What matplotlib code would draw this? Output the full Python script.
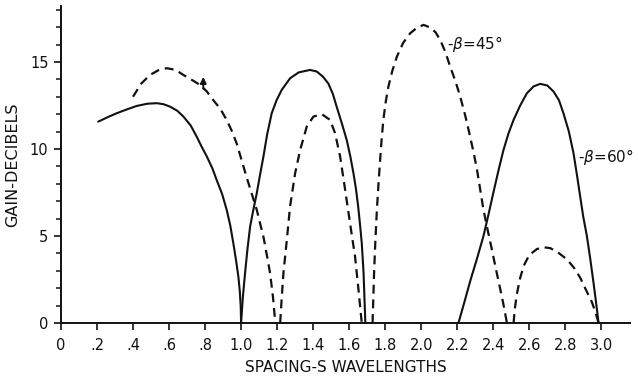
import matplotlib
matplotlib.use("Agg")
import matplotlib.pyplot as plt
from matplotlib.ticker import MultipleLocator

# Gain vs. element spacing, two tilt angles.
# beta = 60 deg (solid) — three lobes
s60_a = [0.207, 0.26, 0.309, 0.36, 0.42, 0.48, 0.532, 0.57, 0.606, 0.645, 0.68, 0.72, 0.754,
         0.78, 0.81, 0.84, 0.865, 0.895, 0.92, 0.94, 0.957, 0.972, 0.985, 0.993, 0.998, 1.0]
g60_a = [11.57, 11.83, 12.05, 12.25, 12.47, 12.6, 12.63, 12.57, 12.43, 12.2, 11.86, 11.35, 10.7,
         10.15, 9.56, 8.9, 8.2, 7.4, 6.5, 5.6, 4.58, 3.6, 2.66, 1.8, 0.94, 0.0]

s60_b = [1.0, 1.01, 1.022, 1.035, 1.05, 1.068, 1.087, 1.105, 1.124, 1.145, 1.17, 1.197, 1.226,
         1.272, 1.32, 1.383, 1.42, 1.455, 1.485, 1.51, 1.53, 1.56, 1.587, 1.607, 1.624,
         1.638, 1.65, 1.66, 1.67, 1.68, 1.69]
g60_b = [0.0, 1.5, 2.86, 4.2, 5.53, 6.5, 7.45, 8.5, 9.56, 10.85, 12.05, 12.8, 13.4,
         14.06, 14.4, 14.54, 14.45, 14.15, 13.75, 13.15, 12.45, 11.45, 10.5, 9.55, 8.6,
         7.7, 6.7, 5.7, 4.6, 2.9, 0.0]

s60_c = [2.207, 2.24, 2.272, 2.31, 2.346, 2.373, 2.40, 2.43, 2.457, 2.485, 2.513, 2.55, 2.587,
         2.625, 2.661, 2.70, 2.735, 2.765, 2.79, 2.82, 2.846, 2.865, 2.883, 2.90, 2.92,
         2.94, 2.957, 2.972, 2.985]
g60_c = [0.0, 1.2, 2.4, 3.7, 5.0, 6.2, 7.45, 8.8, 9.94, 10.9, 11.67, 12.5, 13.2,
         13.6, 13.74, 13.65, 13.3, 12.8, 12.05, 11.0, 9.75, 8.5, 7.26, 6.1, 5.0,
         3.6, 2.3, 1.1, 0.0]

# beta = 45 deg (dashed) — four lobes
s45_a = [0.40, 0.445, 0.494, 0.54, 0.587, 0.635, 0.68, 0.725, 0.772, 0.81, 0.846, 0.885, 0.92,
         0.95, 0.976, 1.003, 1.03, 1.06, 1.087, 1.106, 1.124, 1.143, 1.161, 1.177, 1.19]
g45_a = [13.0, 13.75, 14.25, 14.52, 14.64, 14.55, 14.25, 13.98, 13.68, 13.3, 12.8, 12.3, 11.67,
         11.0, 10.3, 9.35, 8.4, 7.4, 6.5, 5.7, 4.96, 3.9, 2.86, 1.5, 0.0]

s45_b = [1.217, 1.226, 1.235, 1.254, 1.272, 1.30, 1.328, 1.365, 1.402, 1.448, 1.494, 1.522,
         1.55, 1.578, 1.605, 1.633, 1.652, 1.67]
g45_b = [0.0, 1.5, 2.86, 4.77, 6.7, 8.6, 9.94, 11.3, 11.86, 12.0, 11.67, 10.9,
         9.56, 7.64, 5.73, 3.8, 1.9, 0.0]

s45_c = [1.73, 1.739, 1.746, 1.754, 1.763, 1.772, 1.78, 1.79, 1.803, 1.818, 1.84, 1.865,
         1.90, 1.939, 1.975, 2.013, 2.05, 2.08, 2.106, 2.135, 2.161, 2.19, 2.217, 2.245,
         2.272, 2.292, 2.31, 2.328, 2.346, 2.37, 2.393, 2.417, 2.44, 2.46, 2.476]
g45_c = [0.0, 3.05, 4.8, 6.5, 8.0, 9.37, 10.5, 11.67, 12.7, 13.58, 14.5, 15.3,
         16.1, 16.65, 16.95, 17.13, 16.98, 16.7, 16.26, 15.55, 14.73, 13.9, 13.0, 11.9,
         10.7, 9.75, 8.8, 7.65, 6.5, 5.3, 4.2, 3.0, 1.9, 0.9, 0.0]

s45_d = [2.513, 2.52, 2.53, 2.55, 2.57, 2.60, 2.643, 2.68, 2.717, 2.76, 2.81, 2.85, 2.883,
         2.915, 2.948, 2.968, 2.985]
g45_d = [0.0, 0.8, 1.6, 2.6, 3.3, 3.9, 4.25, 4.35, 4.3, 4.05, 3.65, 3.15, 2.6,
         1.9, 1.2, 0.6, 0.0]

x_ticks = [0.0, 0.2, 0.4, 0.6, 0.8, 1.0, 1.2, 1.4, 1.6, 1.8, 2.0, 2.2, 2.4, 2.6, 2.8, 3.0]
x_tick_labels = ["0", ".2", ".4", ".6", ".8", "1.0", "1.2", "1.4", "1.6", "1.8",
                 "2.0", "2.2", "2.4", "2.6", "2.8", "3.0"]
y_ticks = [0, 5, 10, 15]
y_tick_labels = ["0", "5", "10", "15"]

fig = plt.figure(figsize=(6.38, 3.91), dpi=100)
ax = fig.add_axes([0.0956, 0.174, 0.892, 0.810])
ax.set_xlim(0, 3.16)
ax.set_ylim(0, 18.2)

ink = "#111111"
for s, g in [(s60_a, g60_a), (s60_b, g60_b), (s60_c, g60_c)]:
    ax.plot(s, g, color=ink, lw=1.5, solid_capstyle="round", solid_joinstyle="round",
            clip_on=False)
for s, g in [(s45_a, g45_a), (s45_b, g45_b), (s45_c, g45_c), (s45_d, g45_d)]:
    ax.plot(s, g, color=ink, lw=1.6, dashes=(4, 2.6), dash_joinstyle="round", clip_on=False)

# small arrowhead on the first dashed lobe
ax.annotate("", xy=(0.79, 14.3), xytext=(0.79, 13.3),
            arrowprops=dict(arrowstyle="-|>", color=ink, lw=1.4, mutation_scale=9))

ax.text(2.145, 16.05, r"-$\beta$=45°", fontsize=11, ha="left", va="center", color=ink)
ax.text(2.868, 9.55, r"-$\beta$=60°", fontsize=11, ha="left", va="center", color=ink)

for side in ("top", "right"):
    ax.spines[side].set_visible(False)
for side in ("left", "bottom"):
    ax.spines[side].set_linewidth(1.4)
    ax.spines[side].set_color(ink)

ax.set_xticks(x_ticks)
ax.set_xticklabels(x_tick_labels)
ax.set_yticks(y_ticks)
ax.set_yticklabels(y_tick_labels)
ax.yaxis.set_minor_locator(MultipleLocator(1))
ax.tick_params(axis="both", which="major", direction="out", length=5, width=1.2,
               labelsize=10.5, colors=ink)
ax.tick_params(axis="y", which="minor", direction="out", length=3.5, width=1.1, colors=ink)
ax.tick_params(axis="x", pad=6)
ax.tick_params(axis="y", pad=4)

ax.set_xlabel("SPACING-S WAVELENGTHS", fontsize=11, color=ink, labelpad=5)
ax.set_ylabel("GAIN-DECIBELS", fontsize=11.5, color=ink, labelpad=7)

fig.savefig("out.png", dpi=100, facecolor="white")
